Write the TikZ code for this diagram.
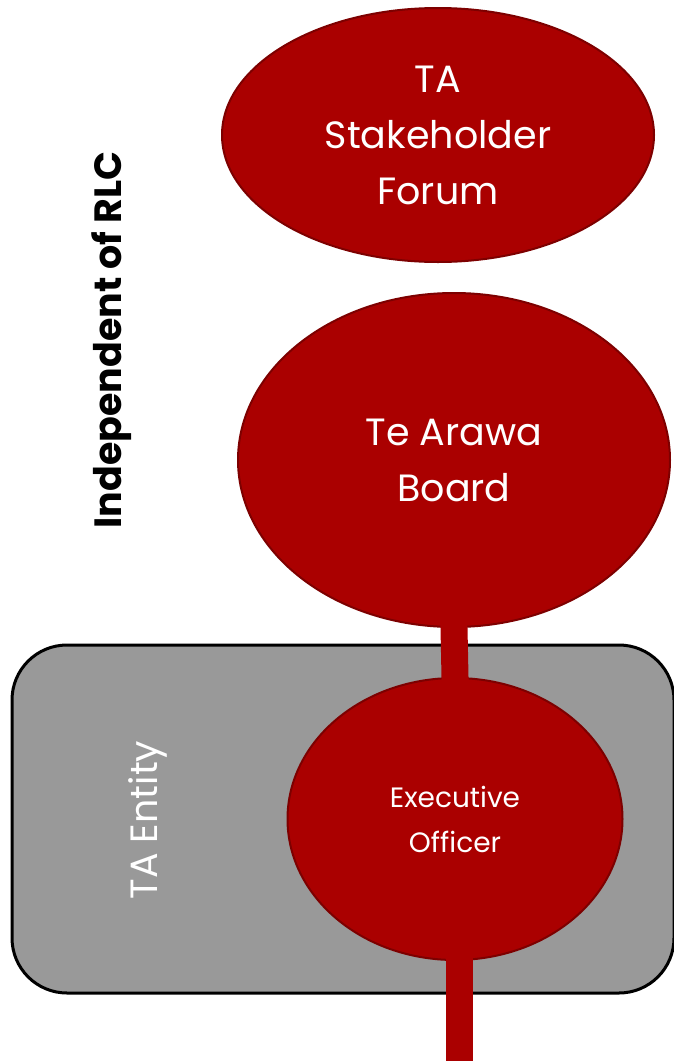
\documentclass[tikz,border=0pt]{standalone}
\usepackage{fontspec}
\setmainfont{Poppins}
\usetikzlibrary{shapes.geometric}
\definecolor{tared}{RGB}{170,0,0}
\definecolor{tarim}{RGB}{125,0,0}
\definecolor{tagrey}{RGB}{153,153,153}

\begin{document}
\begin{tikzpicture}[x=1pt,y=-1pt,
	blob/.style={ellipse,fill=tared,draw=tarim,line width=2pt,text=white,align=center,inner sep=0pt},
	stem/.style={draw=tared,line width=27pt,shorten <=-4pt,shorten >=-4pt}]
	\useasboundingbox (0,0) rectangle (673,1061);
	\node[draw=black,fill=tagrey,line width=3pt,rounded corners=55pt,minimum width=662pt,minimum height=348pt,inner sep=0pt] (entity) at (343,819) {};
	\node[rotate=90,text=white,font=\fontsize{38}{40}\selectfont] (entitylbl) at (148,820) {TA Entity};
	\node[rotate=90,font=\bfseries\fontsize{38}{40}\selectfont] (indep) at (112,340) {Independent of RLC};
	
	\node[blob,minimum width=432pt,minimum height=254pt,font=\fontsize{38}{56}\selectfont] (forum) at (438,135) {TA\\Stakeholder\\Forum};
	\node[blob,minimum width=432pt,minimum height=334pt,font=\fontsize{38}{56}\selectfont] (board) at (454,460) {Te Arawa\\Board};
	\node[blob,minimum width=335pt,minimum height=282pt,font=\fontsize{28}{45}\selectfont] (exec) at (455,819) {Executive\\Officer};
	
	\coordinate (foot) at (459.5,1061);
	\draw[stem] (board.south) -- (exec.north);
	\draw[stem] (foot |- exec.south) -- (foot);
\end{tikzpicture}
\end{document}
